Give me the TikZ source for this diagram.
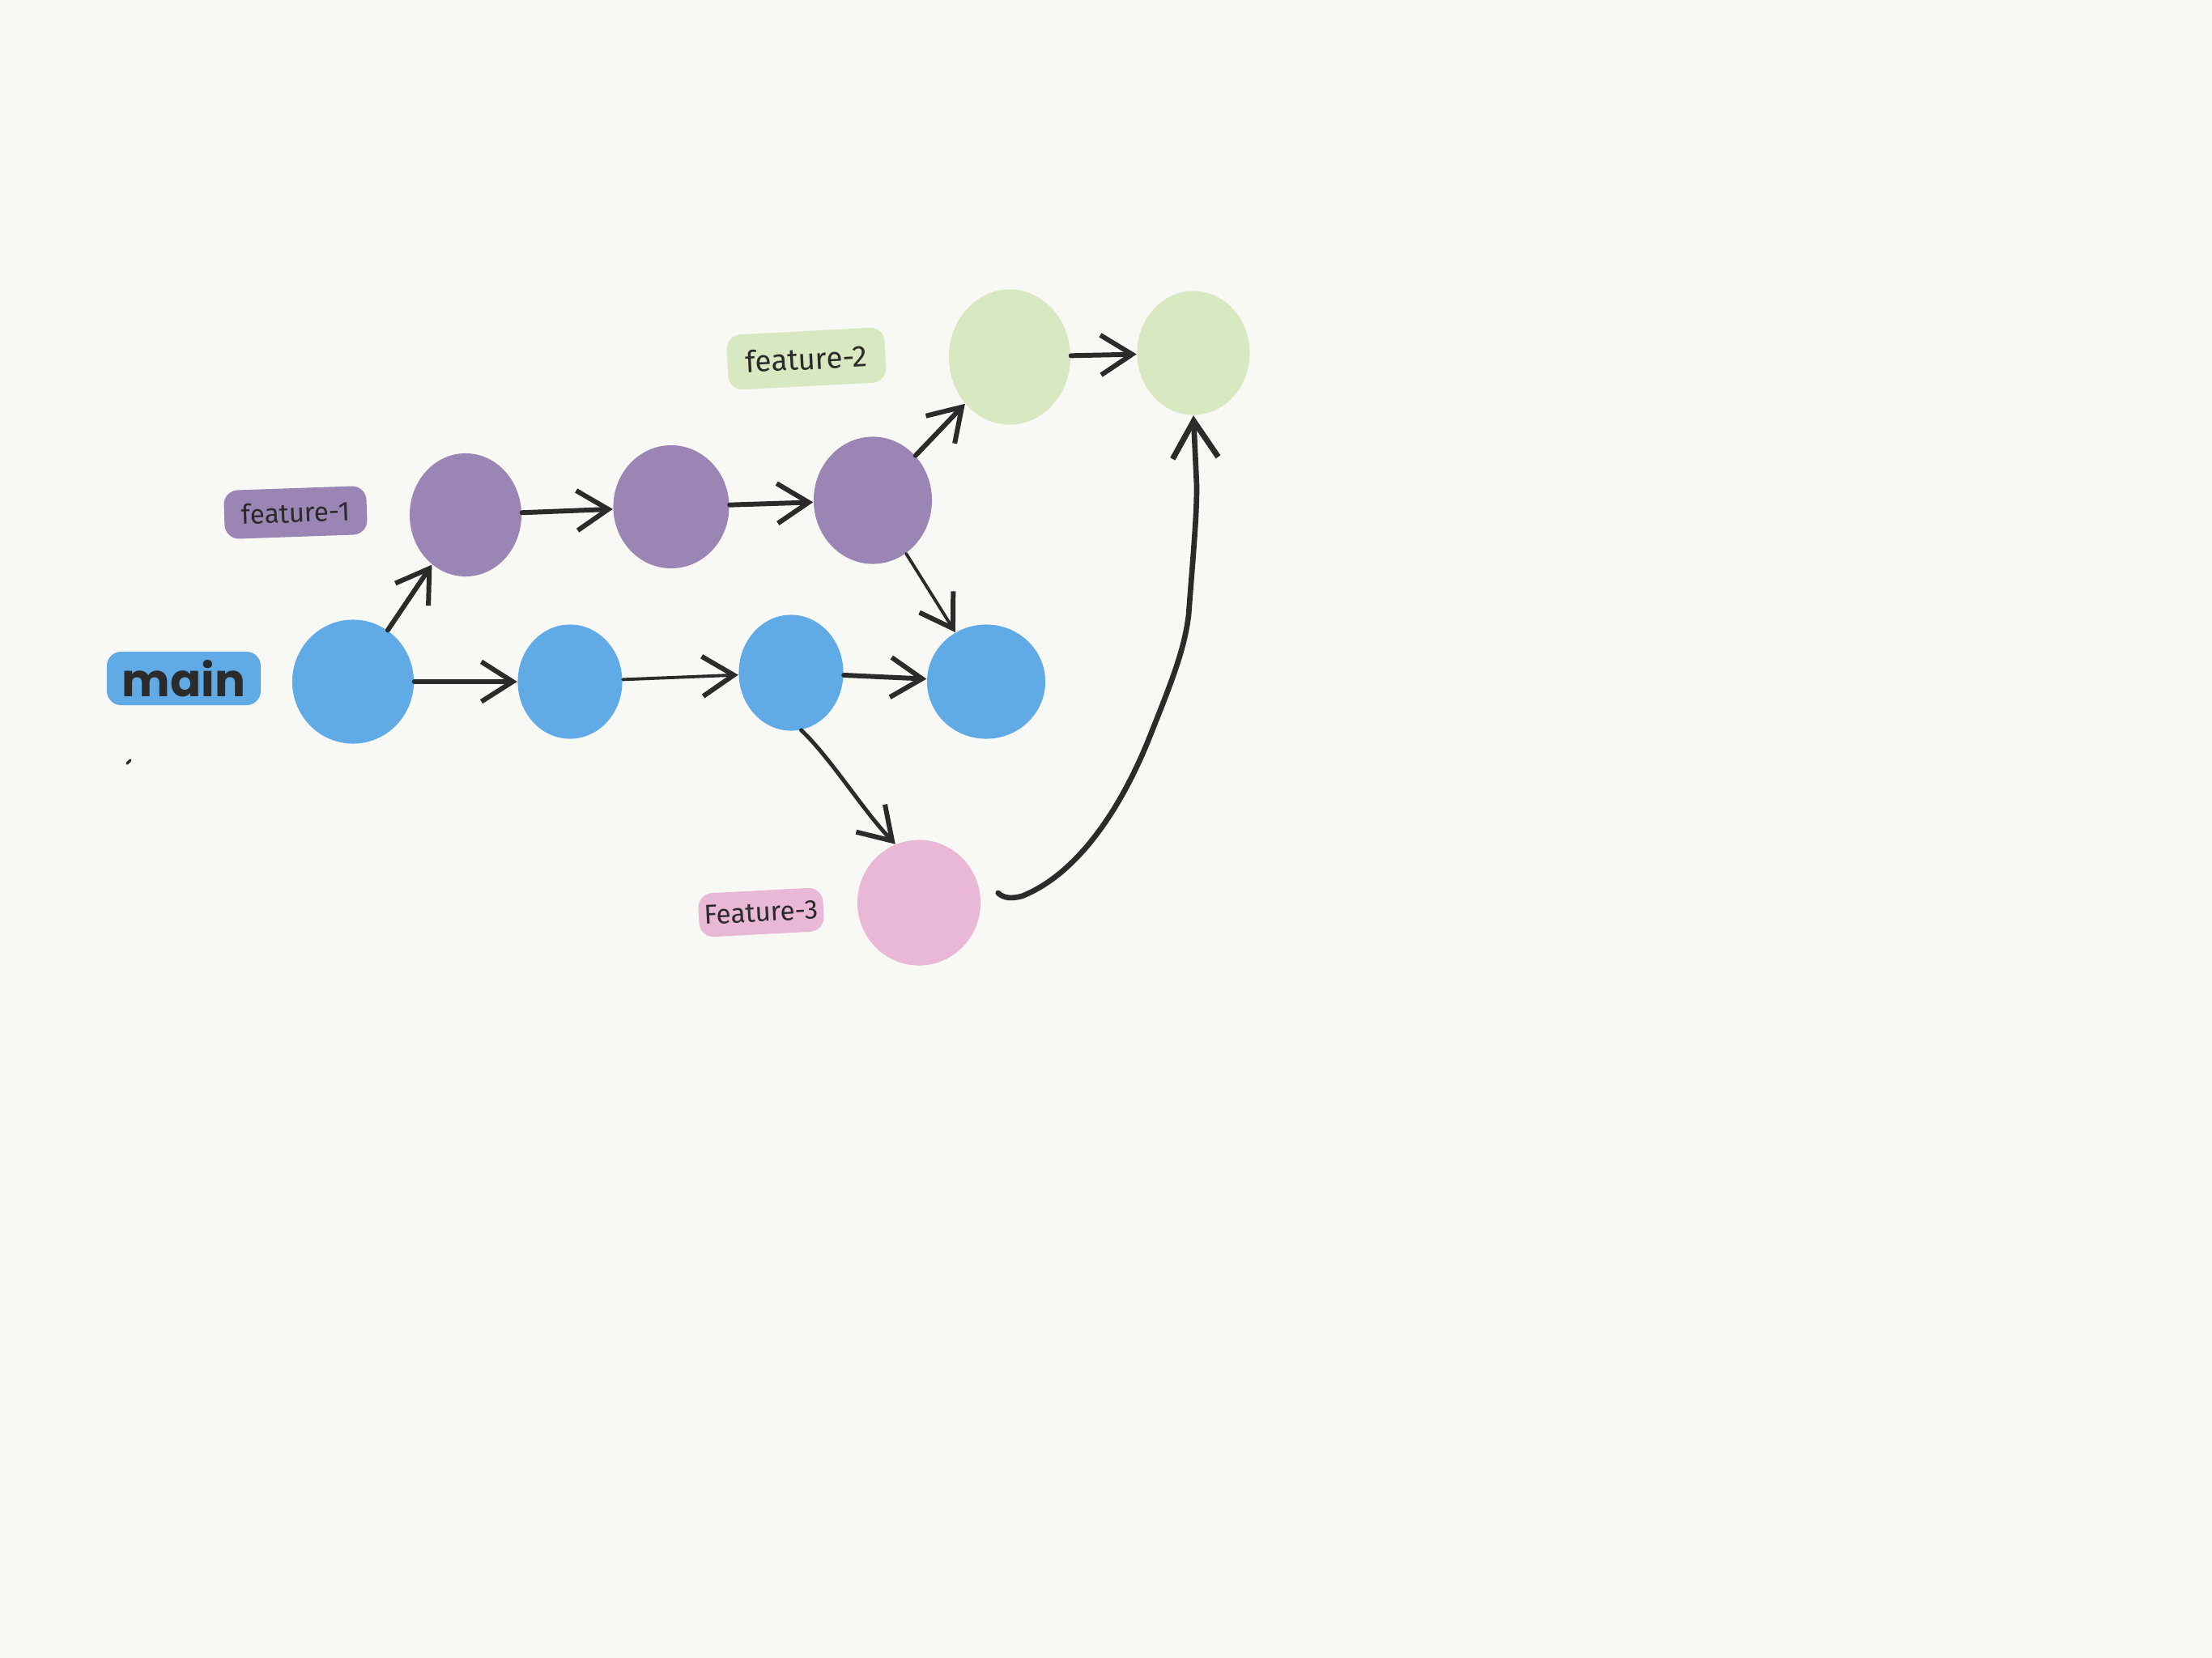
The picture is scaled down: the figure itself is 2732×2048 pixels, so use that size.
\documentclass[tikz,border=0pt]{standalone}
\usepackage{fontspec}
\setmainfont{Fira Sans}
\newfontfamily\poppins{Poppins}
\usetikzlibrary{shapes.geometric,arrows.meta,calc}
\definecolor{bg}{HTML}{F8F8F4}
\definecolor{cblue}{HTML}{60AAE6}
\definecolor{cpurple}{HTML}{9A85B5}
\definecolor{cgreen}{HTML}{D8E8C0}
\definecolor{cpink}{HTML}{E8B8D6}
\definecolor{ink}{HTML}{2B2B2B}
\begin{document}
\begin{tikzpicture}[x=0.01cm,y=-0.01cm,
  commit/.style={ellipse, draw=none, inner sep=0pt},
  link/.style={draw=ink, line width=1.7pt, line cap=round, line join=round,
    -{Straight Barb[length=11pt,width=14pt,line width=1.7pt]}},
  thinlink/.style={link, line width=1.1pt},
  tag/.style={rounded corners=5pt, inner sep=0pt, text=ink}]
\fill[bg] (0,0) rectangle (2732,2048);
% commits
\node[commit, fill=cblue, minimum width=1.50cm, minimum height=1.53cm] (b1) at (436,842) {};
\node[commit, fill=cblue, minimum width=1.29cm, minimum height=1.41cm] (b2) at (704,842) {};
\node[commit, fill=cblue, minimum width=1.29cm, minimum height=1.43cm] (b3) at (977,831) {};
\node[commit, fill=cblue, minimum width=1.46cm, minimum height=1.41cm] (b4) at (1218,842) {};
\node[commit, fill=cpurple, minimum width=1.38cm, minimum height=1.52cm] (p1) at (575,636) {};
\node[commit, fill=cpurple, minimum width=1.43cm, minimum height=1.52cm] (p2) at (829,626) {};
\node[commit, fill=cpurple, minimum width=1.46cm, minimum height=1.57cm] (p3) at (1078,618) {};
\node[commit, fill=cgreen, minimum width=1.50cm, minimum height=1.67cm] (g1) at (1247,441) {};
\node[commit, fill=cgreen, minimum width=1.39cm, minimum height=1.53cm] (g2) at (1474,436) {};
\node[commit, fill=cpink, minimum width=1.52cm, minimum height=1.55cm] (pk) at (1135,1115) {};
% labels
\node[tag, fill=cblue, minimum width=1.90cm, minimum height=0.66cm] (lmain) at (227,838)
  {\poppins\bfseries\fontsize{16}{16}\selectfont main};
\node[tag, fill=cpurple, rotate=2, minimum width=1.76cm, minimum height=0.60cm] (lf1) at (365,633)
  {\fontsize{9.5}{10}\selectfont feature-1};
\node[tag, fill=cgreen, rotate=3, minimum width=1.95cm, minimum height=0.68cm] (lf2) at (996,443)
  {\fontsize{10.5}{11}\selectfont feature-2};
\node[tag, fill=cpink, rotate=3, minimum width=1.54cm, minimum height=0.54cm] (lf3) at (940,1127)
  {\fontsize{9.5}{10}\selectfont Feature-3};
% connectors
\draw[link] (b1) -- (p1);
\draw[link] (b1) -- (b2);
\draw[thinlink] (b2) -- (b3);
\draw[link] (b3) -- (b4);
\draw[link] (p1) -- (p2);
\draw[link] (p2) -- (p3);
\draw[link] (p3) -- (g1);
\draw[link] (g1) -- (g2);
\draw[thinlink] (p3) -- (b4);
\draw[link, line width=1.4pt] (b3.-80) .. controls (1025,935) and (1065,1000) .. (pk.112);
\coordinate (pkstart) at ($(pk.east)+(21,-12)$);
\draw[link, line width=1.9pt, -{Straight Barb[length=13pt,width=16pt,line width=2pt]}]
  (pkstart) .. controls (1240,1110) and (1250,1110) .. (1262,1107)
  .. controls (1330,1080) and (1385,1000) .. (1422,905)
  .. controls (1450,835) and (1463,800) .. (1468,760)
  .. controls (1474,680) and (1478,640) .. (1478,600) -- (g2.south);
% small stray mark
\draw[ink, line width=1pt, line cap=round] (157,943) -- (161,939);
\end{tikzpicture}
\end{document}
